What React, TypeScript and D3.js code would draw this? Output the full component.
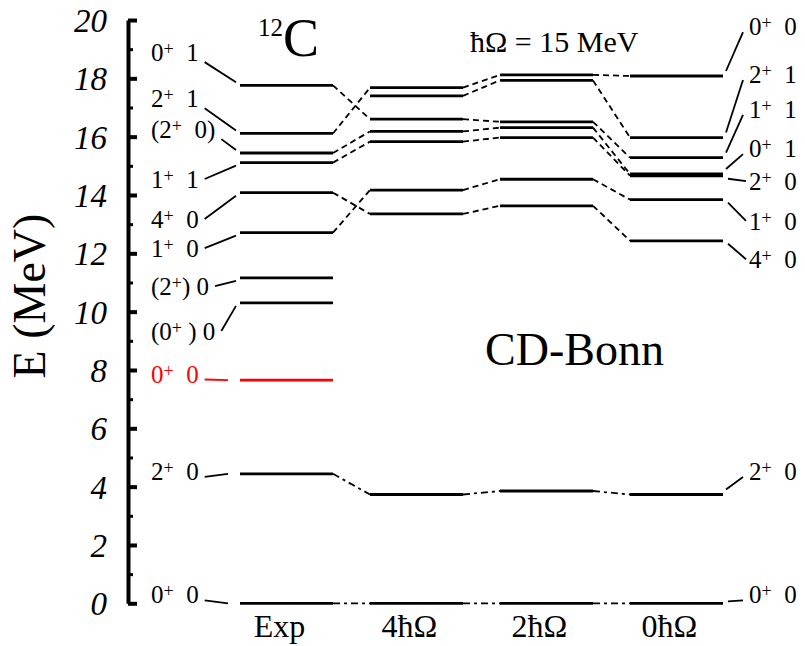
import React, { useEffect, useRef } from "react";
import * as d3 from "d3";

// Columns of the level scheme
const columns = ["Exp", "4ħΩ", "2ħΩ", "0ħΩ"];

// Level energies (MeV). The same index links the same state across columns; null = absent.
const expLevels = [17.76, 16.11, 15.44, 15.11, 14.08, 12.71, 4.44, 0, null, 7.65, 10.3, 11.16];
const hw4Levels = [16.6, 17.68, 16.18, 15.83, 13.35, 14.17, 3.73, 0, 17.4, null, null, null];
const hw2Levels = [16.51, 18.12, 16.31, 15.97, 13.63, 14.54, 3.85, 0, 17.93, null, null, null];
const hw0Levels = [15.28, 18.08, 14.72, 14.66, 12.43, 13.84, 3.73, 0, 15.97, null, null, null];
const hoyleIndex = 9;

// Left (experimental) labels: text, level they point to, label baseline (MeV)
const leftLabels = ["0+  1", "2+  1", "(2+  0)", "1+  1", "4+  0", "1+  0", "(2+) 0", "(0+ ) 0", "0+  0", "2+  0", "0+  0"];
const leftLabelLevel = [17.76, 16.11, 15.44, 15.11, 14.08, 12.71, 11.16, 10.3, 7.65, 4.44, 0];
const leftLabelE = [18.59, 17.01, 15.95, 14.24, 12.87, 11.87, 10.57, 9.03, 7.57, 4.23, 0];

// Right (0ħΩ) labels
const rightLabels = ["0+  0", "2+  1", "1+  1", "0+  1", "2+  0", "1+  0", "4+  0", "2+  0", "0+  0"];
const rightLabelLevel = [18.08, 15.97, 15.28, 14.72, 14.66, 13.84, 12.43, 3.73, 0];
const rightLabelE = [19.48, 17.84, 16.64, 15.3, 14.17, 12.8, 11.49, 4.23, 0];

const yTicks = [0, 2, 4, 6, 8, 10, 12, 14, 16, 18, 20];
const yMinorTicks = [1, 3, 5, 7, 9, 11, 13, 15, 17, 19];

export default function App() {
  const ref = useRef<SVGSVGElement>(null);

  useEffect(() => {
    document.body.style.margin = "0";
    const svg = d3.select(ref.current);
    svg.selectAll("*").remove();
    const font = "'Liberation Serif','Times New Roman',serif";
    const W = 805;
    const H = 646;
    svg.attr("width", W).attr("height", H).style("font-family", font);
    svg.append("rect").attr("width", W).attr("height", H).attr("fill", "#fff");

    const y = d3.scaleLinear().domain([0, 20]).range([603.3, 20]);
    const x = d3.scalePoint<string>().domain(columns).range([286.5, 676.5]);
    const half = 46.5;
    const series = [expLevels, hw4Levels, hw2Levels, hw0Levels];
    const red = "#ff0000";

    // Axis
    const axisX = 128;
    const gMajor = svg.append("g").attr("transform", `translate(${axisX},0)`)
      .call(d3.axisRight(y).tickValues(yTicks).tickSize(9).tickSizeOuter(0).tickFormat(() => ""));
    gMajor.select(".domain").attr("stroke", "#000").attr("stroke-width", 4);
    gMajor.selectAll(".tick line").attr("stroke", "#000").attr("stroke-width", 4);
    const gMinor = svg.append("g").attr("transform", `translate(${axisX},0)`)
      .call(d3.axisRight(y).tickValues(yMinorTicks).tickSize(5).tickSizeOuter(0).tickFormat(() => ""));
    gMinor.select(".domain").remove();
    gMinor.selectAll(".tick line").attr("stroke", "#000").attr("stroke-width", 3);

    svg.append("g").selectAll("text").data(yTicks).join("text")
      .attr("x", 107).attr("y", (d) => y(d) + 12)
      .attr("text-anchor", "end").attr("font-size", 33).attr("font-style", "italic")
      .text((d) => d);

    svg.append("text")
      .attr("transform", "translate(45,296) rotate(-90)")
      .attr("text-anchor", "middle").attr("font-size", 46)
      .text("E (MeV)");

    // Connectors between columns
    const gConn = svg.append("g");
    for (let c = 0; c < series.length - 1; c++) {
      const a = series[c];
      const b = series[c + 1];
      a.forEach((va, i) => {
        const vb = b[i];
        if (va === null || vb === null) return;
        gConn.append("line")
          .attr("x1", (x(columns[c]) as number) + half).attr("y1", y(va))
          .attr("x2", (x(columns[c + 1]) as number) - half).attr("y2", y(vb))
          .attr("stroke", "#000").attr("stroke-width", 1.8)
          .attr("stroke-dasharray", va < 5 ? "7,4,3,4" : "6,4");
      });
    }

    // Level lines
    const gLev = svg.append("g");
    series.forEach((s, c) => {
      s.forEach((v, i) => {
        if (v === null) return;
        const cx = x(columns[c]) as number;
        gLev.append("line")
          .attr("x1", cx - half).attr("x2", cx + half)
          .attr("y1", y(v)).attr("y2", y(v))
          .attr("stroke", c === 0 && i === hoyleIndex ? red : "#000")
          .attr("stroke-width", 2.8);
      });
    });

    // Label helper with superscript "+"
    const addLabel = (g: any, lx: number, ly: number, s: string, color: string) => {
      const t = g.append("text").attr("x", lx).attr("y", ly).attr("font-size", 25)
        .attr("fill", color).style("white-space", "pre");
      const parts = s.split("+");
      parts.forEach((p: string, i: number) => {
        if (i > 0) t.append("tspan").attr("font-size", 18).attr("dy", -6).text("+");
        t.append("tspan").attr("dy", i > 0 ? 6 : 0).text(p);
      });
      return t;
    };

    const gLab = svg.append("g");
    const expStart = (x("Exp") as number) - half;
    const hoyleE = expLevels[hoyleIndex];
    leftLabels.forEach((s, i) => {
      const col = leftLabelLevel[i] === hoyleE ? red : "#000";
      const yb = y(leftLabelE[i]);
      const t = addLabel(gLab, 151, yb, s, col);
      const w = (t.node() as SVGTextElement).getComputedTextLength();
      const ly = y(leftLabelLevel[i]);
      let y1: number;
      let y2: number;
      let xe = expStart - 4;
      if (Math.abs(ly - (yb - 4)) < 8) { y1 = yb - 3; y2 = ly; xe = expStart - 12; }
      else if (ly > yb) { y1 = yb + 1; y2 = ly - 3; }
      else { y1 = yb - 9; y2 = ly + 3; }
      gLab.append("line")
        .attr("x1", 151 + w + 6).attr("y1", y1)
        .attr("x2", xe).attr("y2", y2)
        .attr("stroke", col).attr("stroke-width", 1.8);
    });

    const rEnd = (x("0ħΩ") as number) + half;
    rightLabels.forEach((s, i) => {
      const yb = y(rightLabelE[i]);
      addLabel(gLab, 749, yb, s, "#000");
      const ly = y(rightLabelLevel[i]);
      let p1: [number, number];
      let p2: [number, number];
      if (Math.abs(ly - (yb - 4)) < 10) { p1 = [rEnd + 5, ly - 2]; p2 = [743, yb - 3]; }
      else if (ly > yb) { p1 = [rEnd + 3, ly - 5]; p2 = [743, yb - 3]; }
      else { p1 = [rEnd + 5, ly + 3]; p2 = [746, yb - 9]; }
      gLab.append("line")
        .attr("x1", p1[0]).attr("y1", p1[1]).attr("x2", p2[0]).attr("y2", p2[1])
        .attr("stroke", "#000").attr("stroke-width", 1.8);
    });

    // Column labels
    svg.append("g").selectAll("text").data(columns).join("text")
      .attr("x", (d) => (x(d) as number) - 7).attr("y", 637)
      .attr("text-anchor", "middle").attr("font-size", 32)
      .text((d) => d);

    // Titles
    const title = svg.append("text").attr("x", 258).attr("y", 56);
    title.append("tspan").attr("font-size", 25).attr("dy", -20).text("12");
    title.append("tspan").attr("font-size", 54).attr("dy", 20).text("C");

    svg.append("text").attr("x", 470).attr("y", 52).attr("font-size", 30).text("ħΩ = 15 MeV");
    svg.append("text").attr("x", 485).attr("y", 365).attr("font-size", 46).text("CD-Bonn");
  }, []);

  return <svg ref={ref} style={{ display: "block" }} />;
}
